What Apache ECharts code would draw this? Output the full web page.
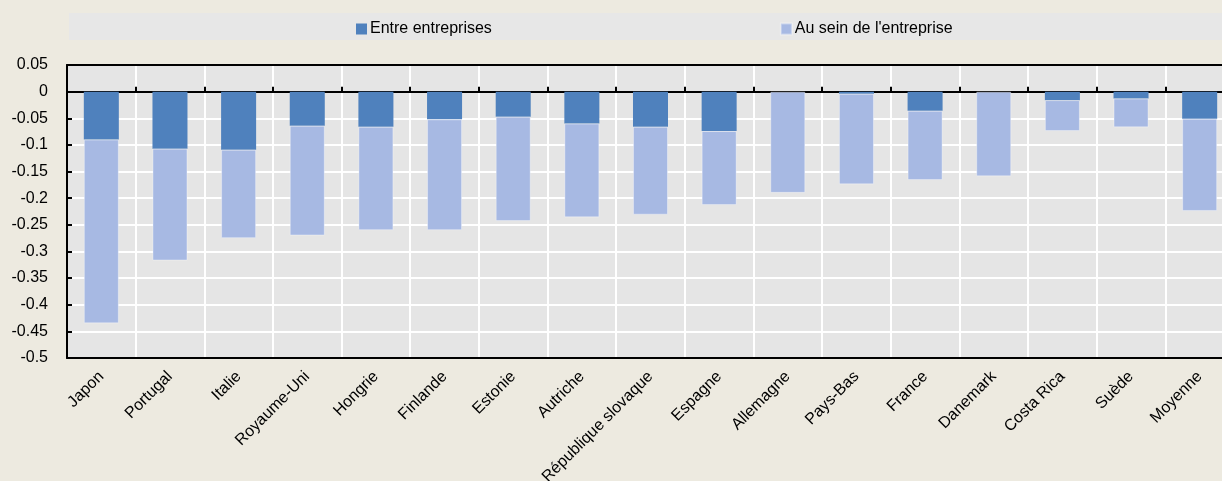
<!DOCTYPE html>
<html>
<head>
<meta charset="utf-8">
<title>Entre entreprises / Au sein de l'entreprise</title>
<script src="https://cdn.jsdelivr.net/npm/echarts@6/dist/echarts.min.js"></script>
<style>
  html, body { margin: 0; padding: 0; background: #EDEAE0; }
  #chart { width: 1222px; height: 481px; }
</style>
</head>
<body>
<div id="chart"></div>
<script>
// valeurs
var categories = ['Japon', 'Portugal', 'Italie', 'Royaume-Uni', 'Hongrie', 'Finlande', 'Estonie', 'Autriche',
  'République slovaque', 'Espagne', 'Allemagne', 'Pays-Bas', 'France', 'Danemark', 'Costa Rica', 'Suède', 'Moyenne']
var entreEntreprises = [-0.090, -0.107, -0.109, -0.064, -0.066, -0.052, -0.047, -0.060,
  -0.066, -0.074, 0, -0.004, -0.036, 0, -0.016, -0.013, -0.051]
var auSeinEntreprise = [-0.345, -0.210, -0.166, -0.206, -0.194, -0.208, -0.196, -0.176,
  -0.165, -0.139, -0.190, -0.170, -0.130, -0.159, -0.058, -0.054, -0.173]
var seriesNames = ['Entre entreprises', "Au sein de l'entreprise"]
var yMin = -0.5
var yMax = 0.05
var yStep = 0.05

var font = 'Arial, "Liberation Sans", sans-serif'
var chart = echarts.init(document.getElementById('chart'))

chart.setOption({
  backgroundColor: '#EDEAE0',
  animation: false,
  textStyle: { fontFamily: font },
  graphic: [
    {
      type: 'rect',
      z: -1,
      shape: { x: 69, y: 13, width: 1153, height: 27 },
      style: { fill: '#E7E7E7' }
    }
  ],
  legend: {
    data: seriesNames,
    left: 356,
    top: 21,
    padding: 0,
    icon: 'rect',
    itemWidth: 11,
    itemHeight: 11,
    itemGap: 288,
    textStyle: { fontSize: 16, color: '#000', fontFamily: font, padding: [0, 0, 0, -2] }
  },
  grid: {
    // le graphique d'origine est coupé à droite
    left: 67,
    right: -12,
    top: 65,
    bottom: 123,
    containLabel: false,
    outerBoundsMode: 'none',
    show: true,
    backgroundColor: '#E5E5E5',
    borderWidth: 0
  },
  xAxis: [
    {
      // axe au niveau du zéro : ligne et graduations seulement
      type: 'category',
      data: categories,
      boundaryGap: true,
      axisLine: { onZero: true, lineStyle: { color: '#000', width: 2 } },
      axisTick: { show: true, inside: true, interval: 0, length: 5, lineStyle: { color: '#000', width: 2 } },
      axisLabel: { show: false },
      splitLine: { show: true, interval: 0, lineStyle: { color: '#fff', width: 2 } }
    },
    {
      // axe du bas : étiquettes
      type: 'category',
      data: categories,
      position: 'bottom',
      boundaryGap: true,
      axisLine: { show: true, onZero: false, lineStyle: { color: '#000', width: 2 } },
      axisTick: { show: false },
      axisLabel: {
        rotate: 45,
        margin: 16,
        fontSize: 16,
        color: '#000',
        fontFamily: font,
        interval: 0
      },
      splitLine: { show: false }
    },
    {
      // bord supérieur
      type: 'category',
      data: categories,
      position: 'top',
      axisLine: { show: true, onZero: false, lineStyle: { color: '#000', width: 2 } },
      axisTick: { show: false },
      axisLabel: { show: false },
      splitLine: { show: false }
    }
  ],
  yAxis: {
    type: 'value',
    min: yMin,
    max: yMax,
    interval: yStep,
    axisLine: { show: true, lineStyle: { color: '#000', width: 2 } },
    axisTick: { show: true, inside: true, length: 5, lineStyle: { color: '#000', width: 2 } },
    axisLabel: {
      fontSize: 16,
      color: '#000',
      margin: 19,
      fontFamily: font,
      formatter: function (v) {
        return String(Math.round(v * 100) / 100)
      }
    },
    splitLine: { show: true, lineStyle: { color: '#fff', width: 2 } }
  },
  series: [
    {
      name: seriesNames[0],
      type: 'bar',
      stack: 'total',
      barWidth: '51%',
      data: entreEntreprises,
      itemStyle: { color: '#4F81BD' }
    },
    {
      name: seriesNames[1],
      type: 'bar',
      stack: 'total',
      barWidth: '51%',
      data: auSeinEntreprise,
      itemStyle: { color: '#A7B9E3', borderColor: 'rgba(255,255,255,0.35)', borderWidth: 1 }
    }
  ]
})
</script>
</body>
</html>
